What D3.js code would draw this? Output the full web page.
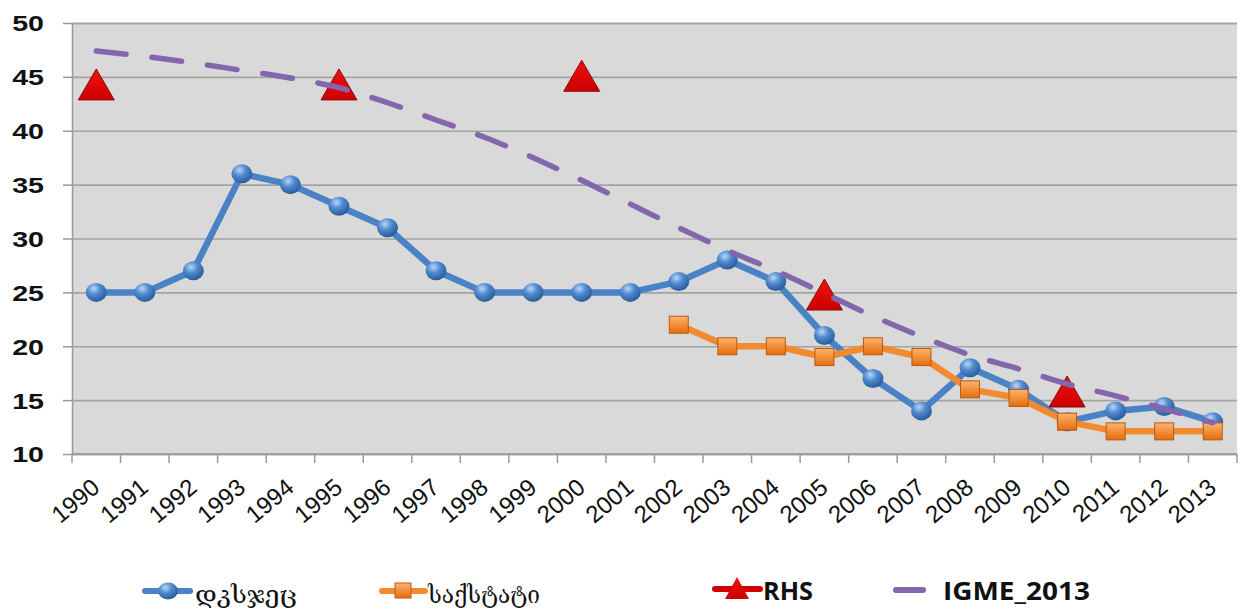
<!DOCTYPE html>
<html><head><meta charset="utf-8">
<script src="https://cdn.jsdelivr.net/npm/d3@7"></script>
<style>html,body{margin:0;padding:0;background:#fff;}</style>
</head><body>
<svg id="chart" width="1243" height="616"></svg>
<script>
const years = ['1990','1991','1992','1993','1994','1995','1996','1997','1998','1999','2000','2001','2002','2003','2004','2005','2006','2007','2008','2009','2010','2011','2012','2013'];
const dksjec = [25,25,27,36,35,33,31,27,25,25,25,25,26,28,26,21,17,14,18,16,13,14,14.4,13];
const sakstatiYears = ['2002','2003','2004','2005','2006','2007','2008','2009','2010','2011','2012','2013'];
const sakstati = [22,20,20,19,20,19,16,15.2,13,12.1,12.1,12.1];
const rhsYears = ['1990','1995','2000','2005','2010'];
const rhs = [44.3,44.3,45.1,24.8,15.8];
const igme = [47.4,46.9,46.3,45.6,44.9,44.0,42.6,41.0,39.4,37.5,35.4,33.2,31.0,28.9,27.0,24.9,22.8,20.9,19.2,17.9,16.5,15.4,14.2,12.9];
const yTicks = [10,15,20,25,30,35,40,45,50];
const seriesNames = ['დკსჯეც','საქსტატი','RHS','IGME_2013'];

const svg = d3.select('#chart');
const L = 72, R = 1237, T = 23, B = 454;
const x = d3.scaleBand().domain(years).range([L, R]).padding(0);
const y = d3.scaleLinear().domain([10, 50]).range([B, T]);
const cx = d => x(d) + x.bandwidth() / 2;

const defs = svg.append('defs');
const bg = defs.append('radialGradient').attr('id','gBlue').attr('cx','38%').attr('cy','30%').attr('r','70%');
bg.append('stop').attr('offset','0%').attr('stop-color','#b9d6f5');
bg.append('stop').attr('offset','45%').attr('stop-color','#4f8ad0');
bg.append('stop').attr('offset','100%').attr('stop-color','#2a5d9a');
const og = defs.append('linearGradient').attr('id','gOrange').attr('x1','0').attr('y1','0').attr('x2','0').attr('y2','1');
og.append('stop').attr('offset','0%').attr('stop-color','#fbb46e');
og.append('stop').attr('offset','100%').attr('stop-color','#e66c0c');
const rg = defs.append('linearGradient').attr('id','gRed').attr('x1','0').attr('y1','0').attr('x2','0').attr('y2','1');
rg.append('stop').attr('offset','0%').attr('stop-color','#f01010');
rg.append('stop').attr('offset','100%').attr('stop-color','#cc0000');

// plot background
svg.append('rect').attr('x', L).attr('y', T).attr('width', R - L).attr('height', B - T).attr('fill', '#d9d9d9');

// gridlines + y axis
const yAxis = d3.axisLeft(y).tickValues(yTicks).tickSize(-(R - L)).tickPadding(0).tickFormat('');
const gy = svg.append('g').attr('transform', `translate(${L},0)`).call(yAxis);
gy.select('.domain').attr('stroke', '#999').attr('stroke-width', 1.5);
gy.selectAll('.tick line').attr('stroke', '#a3a3a3').attr('stroke-width', 1.6);
gy.selectAll('.tick').append('line').attr('x1', -9).attr('x2', 0).attr('stroke', '#999').attr('stroke-width', 1.5);
gy.selectAll('.tick').append('text')
  .attr('transform', 'translate(-28,0) scale(1.3,1)')
  .attr('text-anchor', 'end').attr('dy', '0.36em')
  .attr('fill', '#111').attr('font-family', 'Liberation Sans, Arial, sans-serif')
  .attr('font-weight', 'bold').attr('font-size', 22)
  .text(d => d);

// x axis
const gx = svg.append('g').attr('transform', `translate(0,${B})`);
gx.append('line').attr('x1', L).attr('x2', R).attr('stroke', '#999').attr('stroke-width', 1.5);
gx.selectAll('line.tk').data(years.concat(['end'])).join('line').attr('class','tk')
  .attr('x1', d => d === 'end' ? R : x(d)).attr('x2', d => d === 'end' ? R : x(d))
  .attr('y1', 0).attr('y2', 9).attr('stroke', '#999').attr('stroke-width', 1.5);
gx.selectAll('text').data(years).join('text')
  .attr('transform', d => `translate(${cx(d) + 5},36) rotate(-40)`)
  .attr('text-anchor', 'end')
  .attr('fill', '#111').attr('font-family', 'Liberation Sans, Arial, sans-serif')
  .attr('font-size', 24).text(d => d);

// blue series
const line = d3.line().x(d => cx(d[0])).y(d => y(d[1]));
const blueData = years.map((yr, i) => [yr, dksjec[i]]);
svg.append('path').attr('d', line(blueData)).attr('fill', 'none').attr('stroke', '#4a82c6').attr('stroke-width', 6.5).attr('stroke-linejoin', 'round');
svg.append('g').selectAll('ellipse').data(blueData).join('ellipse')
  .attr('cx', d => cx(d[0])).attr('cy', d => y(d[1])).attr('rx', 10.5).attr('ry', 9.5)
  .attr('fill', 'url(#gBlue)');

// orange series
const orData = sakstatiYears.map((yr, i) => [yr, sakstati[i]]);
svg.append('path').attr('d', line(orData)).attr('fill', 'none').attr('stroke', '#f38b2e').attr('stroke-width', 6.5).attr('stroke-linejoin', 'round');
svg.append('g').selectAll('rect').data(orData).join('rect')
  .attr('x', d => cx(d[0]) - 9.5).attr('y', d => y(d[1]) - 8.5).attr('width', 19).attr('height', 17)
  .attr('fill', 'url(#gOrange)').attr('stroke', '#b85a10').attr('stroke-width', 1);

// red RHS triangles
const tri = (px, py, w, h) => `M${px},${py - h/2}L${px + w/2},${py + h/2}L${px - w/2},${py + h/2}Z`;
const rhsData = rhsYears.map((yr, i) => [yr, rhs[i]]);
svg.append('g').selectAll('path').data(rhsData).join('path')
  .attr('d', d => tri(cx(d[0]), y(d[1]), 36, 31))
  .attr('fill', 'url(#gRed)').attr('stroke', '#8b0a0a').attr('stroke-width', 1);

// purple dashed IGME
const igData = years.map((yr, i) => [yr, igme[i]]);
svg.append('path').attr('d', d3.line().x(d => cx(d[0])).y(d => y(d[1])).curve(d3.curveMonotoneX)(igData))
  .attr('fill', 'none').attr('stroke', '#8466ad').attr('stroke-width', 5.5)
  .attr('stroke-dasharray', '30,26').attr('stroke-linecap', 'round');

// legend
const lg = svg.append('g');
const ly = 591;
// blue
lg.append('line').attr('x1', 145).attr('x2', 190).attr('y1', ly).attr('y2', ly).attr('stroke', '#4a82c6').attr('stroke-width', 6).attr('stroke-linecap','round');
lg.append('ellipse').attr('cx', 168).attr('cy', ly).attr('rx', 10).attr('ry', 8.5).attr('fill', 'url(#gBlue)');
lg.append('text').attr('x', 195).attr('y', 603).attr('font-family', 'DejaVu Serif, DejaVu Sans, serif').attr('font-size', 25)
  .attr('textLength', 102).attr('lengthAdjust', 'spacingAndGlyphs').attr('fill', '#111').text(seriesNames[0]);
// orange
lg.append('line').attr('x1', 382).attr('x2', 425).attr('y1', ly).attr('y2', ly).attr('stroke', '#f38b2e').attr('stroke-width', 6).attr('stroke-linecap','round');
lg.append('rect').attr('x', 395).attr('y', ly - 8).attr('width', 16).attr('height', 15).attr('fill', 'url(#gOrange)').attr('stroke', '#b85a10');
lg.append('text').attr('x', 428).attr('y', 603).attr('font-family', 'DejaVu Serif, DejaVu Sans, serif').attr('font-size', 25)
  .attr('textLength', 112).attr('lengthAdjust', 'spacingAndGlyphs').attr('fill', '#111').text(seriesNames[1]);
// red
lg.append('line').attr('x1', 715).attr('x2', 760).attr('y1', 589).attr('y2', 589).attr('stroke', '#d00000').attr('stroke-width', 6).attr('stroke-linecap','round');
lg.append('path').attr('d', tri(737, 588, 24, 22)).attr('fill', 'url(#gRed)');
lg.append('text').attr('x', 763).attr('y', 600).attr('font-family', 'Open Sans, Lato, sans-serif').attr('font-weight', 'bold').attr('font-size', 25)
  .attr('textLength', 50).attr('lengthAdjust', 'spacingAndGlyphs').attr('fill', '#111').text(seriesNames[2]);
// purple
lg.append('line').attr('x1', 896).attr('x2', 923).attr('y1', 590).attr('y2', 590).attr('stroke', '#8466ad').attr('stroke-width', 6).attr('stroke-linecap','round');
lg.append('text').attr('x', 943).attr('y', 600).attr('font-family', 'Open Sans, Lato, sans-serif').attr('font-weight', 'bold').attr('font-size', 25)
  .attr('textLength', 147).attr('lengthAdjust', 'spacingAndGlyphs').attr('fill', '#111').text(seriesNames[3]);
</script>
</body></html>
